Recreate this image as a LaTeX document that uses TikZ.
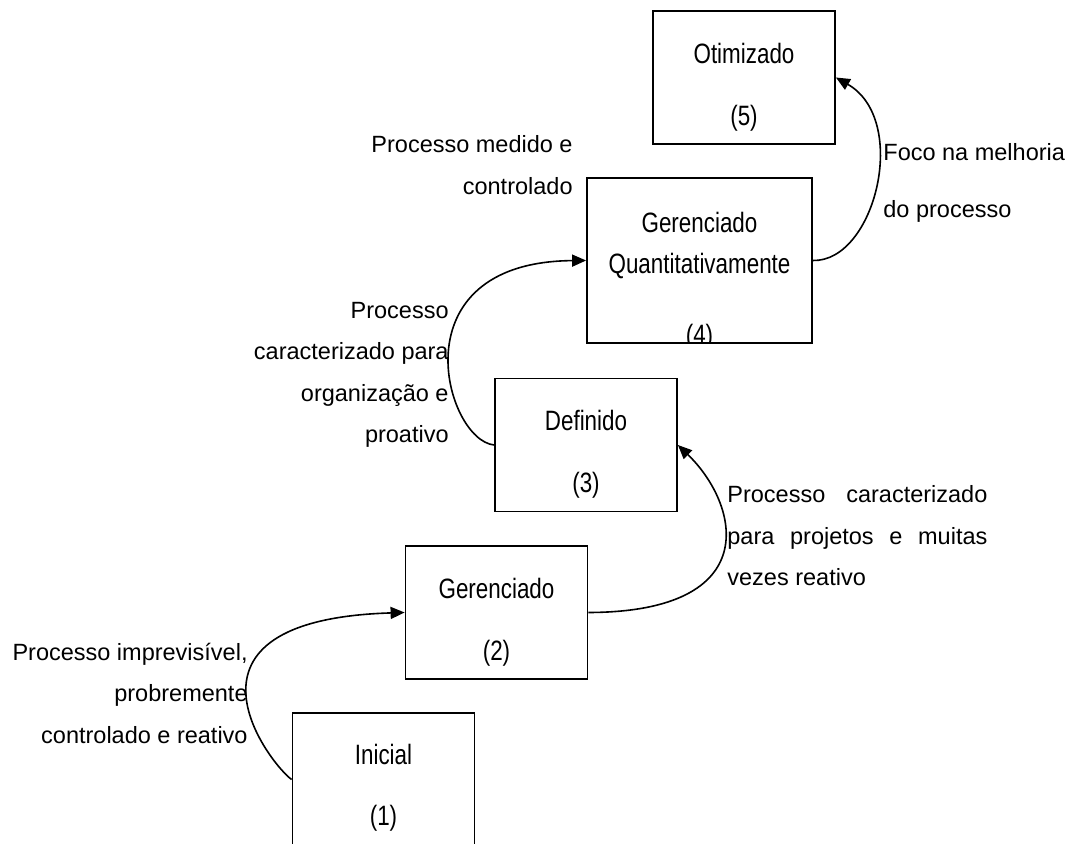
\documentclass[tikz,border=0pt]{standalone}
\usepackage{fontspec}
\setmainfont{Liberation Sans}
\usepackage{graphicx}
\usetikzlibrary{arrows.meta}
\newcommand{\narrowtxt}[1]{\scalebox{0.8}[1]{#1}}

\begin{document}
\begin{tikzpicture}[
    x=0.5pt, y=-0.5pt,
    level/.style={rectangle, draw, line width=0.9pt, minimum width=91pt, minimum height=66.5pt, inner sep=0pt},
    lvltext/.style={font=\fontsize{14}{16}\selectfont, inner sep=0pt},
    note/.style={font=\fontsize{11.75}{20.75}\selectfont, inner sep=0pt},
    arrow/.style={-{Triangle[length=7pt, width=6pt]}, line width=0.8pt}
]
\useasboundingbox (0,0) rectangle (1070,844);
\clip (0,0) rectangle (1070,844);

% Maturity levels
\node[level] (b1) at (383.5, 779.5) {};
\node[level] (b2) at (496.5, 612.5) {};
\node[level] (b3) at (586, 445) {};
\node[level, minimum width=112.5pt, minimum height=82.5pt] (b4) at (699.5, 260.5) {};
\node[level] (b5) at (744, 77.5) {};

\node[lvltext] (n1a) at (383.5, 754) {\narrowtxt{Inicial}};
\node[lvltext] (n1b) at (383.5, 818) {\narrowtxt{(1)}};
\node[lvltext] (n2a) at (496.5, 588) {\narrowtxt{Gerenciado}};
\node[lvltext] (n2b) at (496.5, 653) {\narrowtxt{(2)}};
\node[lvltext] (n3a) at (586, 420) {\narrowtxt{Definido}};
\node[lvltext] (n3b) at (586, 485) {\narrowtxt{(3)}};
\node[lvltext] (n4a) at (699.5, 222) {\narrowtxt{Gerenciado}};
\node[lvltext] (n4b) at (699.5, 266) {\narrowtxt{Quantitativamente}};
\begin{scope}
    \clip (b4.south west) rectangle (b4.north east);
    \node[lvltext] (n4c) at (699.5, 337) {\narrowtxt{(4)}};
\end{scope}
\node[lvltext] (n5a) at (744, 53) {\narrowtxt{Otimizado}};
\node[lvltext] (n5b) at (744, 118) {\narrowtxt{(5)}};

% Transition notes
\node[note, align=right, anchor=east] (l1) at (248, 693) {Processo imprevisível,\\probremente\\controlado e reativo};
\node[note, align=left, anchor=west] (l2) at (727, 536) {\makebox[130pt][s]{Processo caracterizado}\\\makebox[130pt][s]{para projetos e muitas}\\vezes reativo};
\node[note, align=right, anchor=east] (l3) at (449, 375) {Processo\\caracterizado para\\organização e\\proativo};
\node[note, align=right, anchor=east] (l4) at (573, 165) {Processo medido e\\controlado};
\node[note, align=left, anchor=west, font=\fontsize{11.75}{28.5}\selectfont] (l5) at (883, 183) {Foco na melhoria\\do processo};

\draw[arrow] (b1.west) .. controls (270,764) and (158,620) .. (b2.west);
\draw[arrow] (b2.east) .. controls (765,612) and (740,505) .. (b3.east);
\draw[arrow] (b3.west) .. controls (445,440) and (395,262) .. (b4.west);
\draw[arrow] (b4.east) .. controls (875,262) and (910,120) .. (b5.east);
\end{tikzpicture}
\end{document}
